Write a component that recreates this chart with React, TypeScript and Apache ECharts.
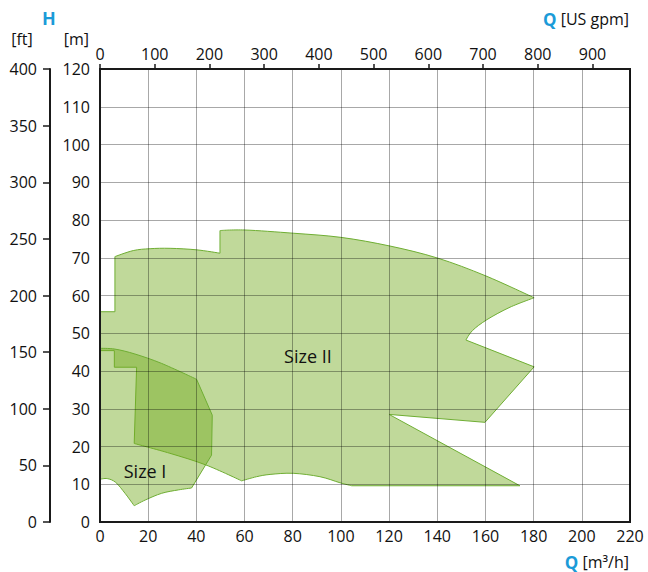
import React, { useEffect, useRef } from "react";
import * as echarts from "echarts";

// ---------- data ----------
const qMaxM3h = 220;
const qInterval = 20;
const hMaxM = 120;
const hIntervalM = 10;
const hMaxFt = 400;
const hIntervalFt = 50;
const m3hToGpm = 4.40287;
const gpmTickValues = [0, 100, 200, 300, 400, 500, 600, 700, 800, 900];

// outline vertices: [Q m³/h, H m, 1 = smooth point / 0 = corner]
const sizeIIOutline: [number, number, number][] = [
  [0, 55.7, 0],
  [6.2, 55.7, 0],
  [6.2, 70.3, 0],
  [13.8, 71.9, 1],
  [20.8, 72.4, 1],
  [29.1, 72.5, 1],
  [40.1, 72.1, 1],
  [49.8, 71.2, 0],
  [49.8, 77.2, 0],
  [60.2, 77.35, 1],
  [80.2, 76.5, 1],
  [100, 75.4, 1],
  [120.4, 73.1, 1],
  [140.2, 69.9, 1],
  [160.1, 65.2, 1],
  [180.2, 59.4, 0],
  [170.2, 56.9, 1],
  [160.6, 53.6, 1],
  [154.6, 50.7, 1],
  [151.9, 48.2, 0],
  [180.2, 41.1, 0],
  [159.8, 26.4, 0],
  [120.0, 28.5, 0],
  [174.3, 9.6, 0],
  [104.5, 9.6, 0],
  [99.6, 10.4, 1],
  [91.3, 12.0, 1],
  [80.2, 12.9, 1],
  [70.6, 12.6, 1],
  [65.0, 12.0, 1],
  [58.8, 10.9, 0],
  [44.0, 15.1, 1],
  [29.0, 18.2, 1],
  [14.2, 20.8, 0],
  [15.2, 41.0, 0],
  [5.95, 41.0, 0],
  [5.95, 45.4, 0],
  [0, 45.4, 0],
];

const sizeIOutline: [number, number, number][] = [
  [0, 11.3, 0],
  [3.0, 11.5, 1],
  [6.5, 10.5, 1],
  [10.4, 7.6, 1],
  [14.2, 4.3, 0],
  [18.7, 5.8, 1],
  [25.6, 7.6, 1],
  [32.5, 8.5, 1],
  [38.0, 9.0, 0],
  [46.3, 17.7, 0],
  [46.6, 28.3, 0],
  [40.1, 37.8, 0],
  [25.6, 42.0, 1],
  [14.5, 44.5, 1],
  [6.2, 45.8, 1],
  [0, 46.0, 0],
];

const zoneNames = ["Size I", "Size II"];
const zoneLabelQ = [18.7, 86.3];
const zoneLabelH = [13.6, 44.1];

// ---------- styles ----------
const FONT = "'Open Sans', 'Noto Sans', sans-serif";
const TEXT = "#111111";
const AXIS = "#1a1a1a";
const BLUE = "#1b9bd8";
const GRID = "rgba(0,0,0,0.34)";
const FILL = "rgba(115,170,30,0.45)";
const STROKE = "#6fae33";

function buildPath(api: any, pts: [number, number, number][]) {
  const P = pts.map((p) => api.coord([p[0], p[1]]) as number[]);
  const n = P.length;
  const t = 1 / 6;
  let d = `M${P[0][0]},${P[0][1]}`;
  for (let i = 0; i < n; i++) {
    const i0 = (i - 1 + n) % n;
    const i1 = i;
    const i2 = (i + 1) % n;
    const i3 = (i + 2) % n;
    const s1 = pts[i1][2] === 1;
    const s2 = pts[i2][2] === 1;
    if (!s1 && !s2) {
      d += ` L${P[i2][0]},${P[i2][1]}`;
      continue;
    }
    const c1 = s1
      ? [P[i1][0] + (P[i2][0] - P[i0][0]) * t, P[i1][1] + (P[i2][1] - P[i0][1]) * t]
      : P[i1];
    const c2 = s2
      ? [P[i2][0] - (P[i3][0] - P[i1][0]) * t, P[i2][1] - (P[i3][1] - P[i1][1]) * t]
      : P[i2];
    d += ` C${c1[0]},${c1[1]} ${c2[0]},${c2[1]} ${P[i2][0]},${P[i2][1]}`;
  }
  return d + " Z";
}

function zoneSeries(pts: [number, number, number][]) {
  return {
    type: "custom",
    coordinateSystem: "cartesian2d",
    xAxisIndex: 0,
    yAxisIndex: 0,
    silent: true,
    z: 2,
    data: [[pts[0][0], pts[0][1]]],
    renderItem: (_params: any, api: any) => ({
      type: "path",
      shape: { pathData: buildPath(api, pts) },
      style: { fill: FILL, stroke: STROKE, lineWidth: 1 },
    }),
  };
}

export default function App() {
  const ref = useRef<HTMLDivElement>(null);
  useEffect(() => {
    if (!ref.current) return;
    const chart = echarts.init(ref.current, null, { renderer: "svg" });
    const labelStyle = { fontSize: 16, color: TEXT, fontFamily: FONT };
    chart.setOption({
      animation: false,
      grid: {
        left: 100,
        right: 18,
        top: 69,
        bottom: 50,
        show: true,
        borderColor: AXIS,
        borderWidth: 2,
        backgroundColor: "transparent",
      },
      xAxis: [
        {
          type: "value",
          position: "bottom",
          min: 0,
          max: qMaxM3h,
          interval: qInterval,
          z: 3,
          axisLine: { show: true, onZero: false, lineStyle: { color: AXIS, width: 2 } },
          axisTick: { show: false },
          axisLabel: { ...labelStyle, margin: 6 },
          splitLine: { show: true, lineStyle: { color: GRID, width: 1 } },
        },
        {
          type: "value",
          position: "top",
          min: 0,
          max: qMaxM3h * m3hToGpm,
          z: 3,
          axisLine: { show: true, onZero: false, lineStyle: { color: AXIS, width: 2 } },
          axisTick: {
            show: true,
            inside: false,
            length: 5,
            customValues: gpmTickValues,
            lineStyle: { color: AXIS, width: 1.5 },
          },
          axisLabel: { ...labelStyle, margin: 7, customValues: gpmTickValues },
          splitLine: { show: false },
        },
      ],
      yAxis: [
        {
          type: "value",
          position: "left",
          min: 0,
          max: hMaxM,
          interval: hIntervalM,
          z: 3,
          axisLine: { show: true, onZero: false, lineStyle: { color: AXIS, width: 2 } },
          axisTick: { show: false },
          axisLabel: { ...labelStyle, margin: 10 },
          splitLine: { show: true, lineStyle: { color: GRID, width: 1 } },
        },
        {
          type: "value",
          position: "left",
          offset: 50,
          min: 0,
          max: hMaxFt,
          interval: hIntervalFt,
          z: 3,
          axisLine: { show: true, onZero: false, lineStyle: { color: AXIS, width: 2 } },
          axisTick: { show: true, inside: false, length: 7, lineStyle: { color: AXIS, width: 1.5 } },
          axisLabel: { ...labelStyle, margin: 13 },
          splitLine: { show: false },
        },
      ],
      graphic: [
        {
          type: "text",
          x: 49,
          y: 18,
          style: {
            text: "H",
            fill: BLUE,
            fontSize: 18,
            fontWeight: "bold",
            fontFamily: FONT,
            align: "center",
            verticalAlign: "middle",
          },
        },
        {
          type: "text",
          x: 22,
          y: 39,
          style: { text: "[ft]", fill: TEXT, fontSize: 16, fontFamily: FONT, align: "center", verticalAlign: "middle" },
        },
        {
          type: "text",
          x: 89,
          y: 39,
          style: { text: "[m]", fill: TEXT, fontSize: 16, fontFamily: FONT, align: "right", verticalAlign: "middle" },
        },
        {
          type: "text",
          x: 629,
          y: 19,
          style: {
            text: "{q|Q} [US gpm]",
            fill: TEXT,
            fontSize: 16,
            fontFamily: FONT,
            align: "right",
            verticalAlign: "middle",
            rich: { q: { fill: BLUE, fontWeight: "bold", fontSize: 17, fontFamily: FONT } },
          },
        },
        {
          type: "text",
          x: 629,
          y: 562,
          style: {
            text: "{q|Q} [m³/h]",
            fill: TEXT,
            fontSize: 16,
            fontFamily: FONT,
            align: "right",
            verticalAlign: "middle",
            rich: { q: { fill: BLUE, fontWeight: "bold", fontSize: 17, fontFamily: FONT } },
          },
        },
      ],
      series: [
        zoneSeries(sizeIIOutline),
        zoneSeries(sizeIOutline),
        {
          type: "custom",
          coordinateSystem: "cartesian2d",
          xAxisIndex: 0,
          yAxisIndex: 0,
          silent: true,
          z: 4,
          data: zoneNames.map((_, i) => [zoneLabelQ[i], zoneLabelH[i]]),
          renderItem: (params: any, api: any) => {
            const p = api.coord([api.value(0), api.value(1)]);
            return {
              type: "text",
              x: p[0],
              y: p[1],
              style: {
                text: zoneNames[params.dataIndex],
                fill: TEXT,
                fontSize: 18,
                fontFamily: FONT,
                align: "center",
                verticalAlign: "middle",
              },
            };
          },
        },
      ],
    });
    return () => chart.dispose();
  }, []);
  return (
    <div
      ref={ref}
      style={{ position: "fixed", left: 0, top: 0, width: 648, height: 572, background: "#fff" }}
    />
  );
}
